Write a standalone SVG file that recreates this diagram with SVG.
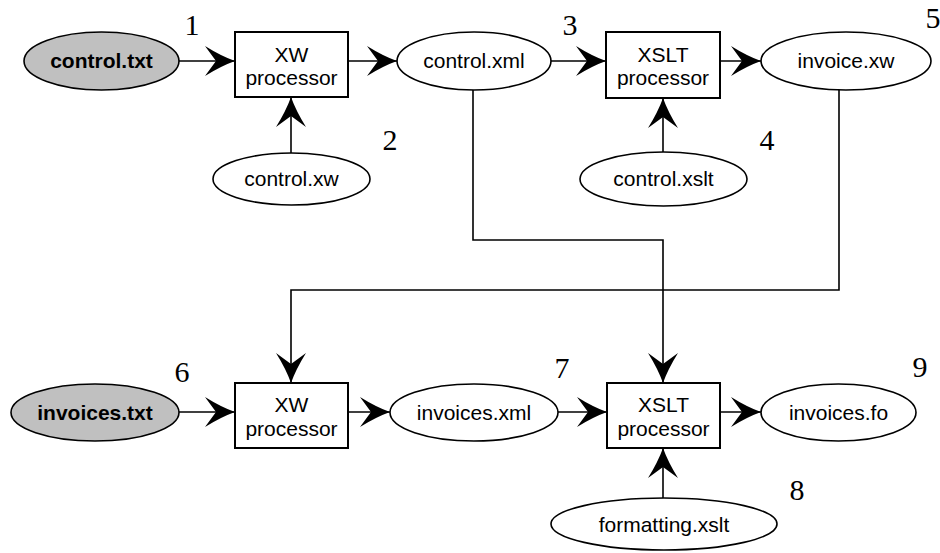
<svg xmlns="http://www.w3.org/2000/svg" width="940" height="553" viewBox="0 0 940 553">
<style>
.e{fill:#fff;stroke:#000;stroke-width:1.6}
.g{fill:#c0c0c0;stroke:#000;stroke-width:1.6}
.b{fill:#fff;stroke:#000;stroke-width:2}
.t{font-family:"Liberation Sans",Arial,sans-serif;font-size:21px;text-anchor:middle;fill:#000}
.tb{font-weight:bold}
.n{font-family:"Liberation Serif","Times New Roman",serif;font-size:30px;text-anchor:middle;fill:#000}
.c{fill:none;stroke:#000;stroke-width:1.6;marker-end:url(#ah)}
</style>
<defs>
<marker id="ah" markerUnits="userSpaceOnUse" viewBox="-31 -16 32 32" refX="0" refY="0" markerWidth="32" markerHeight="32" orient="auto">
<path d="M0,0 Q-14,-5 -30,-15 L-19,0 L-30,15 Q-14,5 0,0 Z" fill="#000"/>
</marker>
</defs>
<g id="connectors">
<line class="c" x1="179" y1="61" x2="235" y2="61"/>
<line class="c" x1="348" y1="61" x2="397" y2="61"/>
<line class="c" x1="291" y1="153" x2="291" y2="97"/>
<line class="c" x1="551" y1="61" x2="606" y2="61"/>
<line class="c" x1="720" y1="61" x2="761" y2="61"/>
<line class="c" x1="663" y1="152" x2="663" y2="98"/>
<path class="c" d="M473,90 V240 H663 V383"/>
<path class="c" d="M839,89 V290 H291 V383"/>
<line class="c" x1="179" y1="412" x2="235" y2="412"/>
<line class="c" x1="348" y1="412" x2="390" y2="412"/>
<line class="c" x1="558" y1="412" x2="607" y2="412"/>
<line class="c" x1="720" y1="412" x2="761" y2="412"/>
<line class="c" x1="663" y1="498" x2="663" y2="448"/>
</g>
<g id="control_txt"><ellipse class="g" cx="101.5" cy="61" rx="77.5" ry="29"/><text class="t tb" x="101.5" y="68">control.txt</text></g>
<g id="xw1"><rect class="b" x="235" y="32" width="113" height="65"/><text class="t" x="291.5" y="62">XW</text><text class="t" x="291.5" y="85">processor</text></g>
<g id="control_xml"><ellipse class="e" cx="474" cy="61" rx="77" ry="29"/><text class="t" x="474" y="68">control.xml</text></g>
<g id="xslt1"><rect class="b" x="606" y="32" width="114" height="66"/><text class="t" x="663" y="62">XSLT</text><text class="t" x="663" y="85">processor</text></g>
<g id="invoice_xw"><ellipse class="e" cx="846" cy="61" rx="85" ry="29"/><text class="t" x="846" y="68">invoice.xw</text></g>
<g id="control_xw"><ellipse class="e" cx="291.5" cy="179" rx="78.5" ry="26"/><text class="t" x="291.5" y="186">control.xw</text></g>
<g id="control_xslt"><ellipse class="e" cx="663.5" cy="179" rx="83.5" ry="27"/><text class="t" x="663.5" y="186">control.xslt</text></g>
<g id="invoices_txt"><ellipse class="g" cx="95" cy="412.5" rx="84" ry="28.5"/><text class="t tb" x="95" y="420">invoices.txt</text></g>
<g id="xw2"><rect class="b" x="235" y="383" width="113" height="65"/><text class="t" x="291.5" y="412">XW</text><text class="t" x="291.5" y="436">processor</text></g>
<g id="invoices_xml"><ellipse class="e" cx="474" cy="412.5" rx="84" ry="28.5"/><text class="t" x="474" y="420">invoices.xml</text></g>
<g id="xslt2"><rect class="b" x="607" y="383" width="113" height="65"/><text class="t" x="663.5" y="412">XSLT</text><text class="t" x="663.5" y="436">processor</text></g>
<g id="invoices_fo"><ellipse class="e" cx="838.5" cy="412.5" rx="77.5" ry="28.5"/><text class="t" x="838.5" y="420">invoices.fo</text></g>
<g id="formatting_xslt"><ellipse class="e" cx="664" cy="524" rx="113" ry="26"/><text class="t" x="664" y="532">formatting.xslt</text></g>
<g id="labels">
<text class="n" x="192" y="35">1</text>
<text class="n" x="390" y="150">2</text>
<text class="n" x="570" y="35">3</text>
<text class="n" x="767" y="150">4</text>
<text class="n" x="933" y="28">5</text>
<text class="n" x="182" y="382">6</text>
<text class="n" x="562" y="378">7</text>
<text class="n" x="797" y="500">8</text>
<text class="n" x="920" y="377">9</text>
</g>
</svg>
